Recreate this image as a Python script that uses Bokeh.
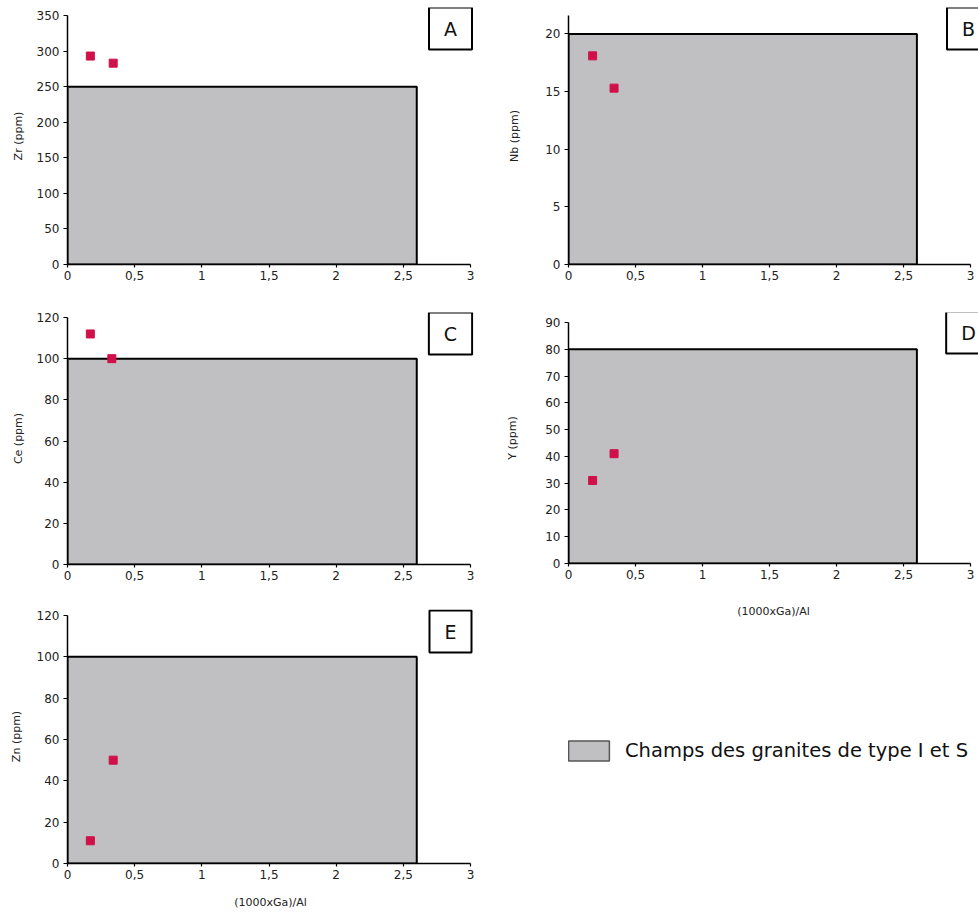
from bokeh.plotting import figure
from bokeh.models import Range1d, FixedTicker, Label, ColumnDataSource, Legend, LegendItem
from bokeh.layouts import row, column
from bokeh.embed import file_html
from bokeh.resources import INLINE

# ---- data ----
x_ticks = [0, 0.5, 1, 1.5, 2, 2.5, 3]
x_tick_labels = ["0", "0,5", "1", "1,5", "2", "2,5", "3"]
x_title = "(1000xGa)/Al"
x_max = 3
field_x_max = 2.6

panel_letters = ["A", "B", "C", "D", "E"]
y_titles = ["Zr (ppm)", "Nb (ppm)", "Ce (ppm)", "Y (ppm)", "Zn (ppm)"]
y_max = [350, 21.6, 120, 90, 120]
y_ticks = [[0, 50, 100, 150, 200, 250, 300, 350],
           [0, 5, 10, 15, 20],
           [0, 20, 40, 60, 80, 100, 120],
           [0, 10, 20, 30, 40, 50, 60, 70, 80, 90],
           [0, 20, 40, 60, 80, 100, 120]]
field_top = [250, 20, 100, 80, 100]

ga_al = [[0.17, 0.34], [0.18, 0.34], [0.17, 0.33], [0.18, 0.34], [0.17, 0.34]]
zr = [293, 283]
nb = [18.1, 15.3]
ce = [112, 100]
yy = [31, 41]
zn = [11, 50]
values = [zr, nb, ce, yy, zn]

legend_text = "Champs des granites de type I et S"

FONT = "DejaVu Sans"
FIELD_FILL = "#c0c0c2"
MARK = "#d0104a"

# layout geometry (pixels)
# width, height, border left/right/top/bottom, axis length in px (x, y),
# frame size in px (x, y), y-label standoff, x-title standoff, letter box centre
geom = {
    "A": dict(w=478, h=302, bl=67, br=5, bt=7, bb=38, ax=403, ay=249, fx=406, fy=257, ys=9, xs=None, box=(383, 236)),
    "C": dict(w=478, h=298, bl=67, br=5, bt=10, bb=36, ax=403, ay=247, fx=406, fy=252, ys=9, xs=None, box=(383, 231)),
    "E": dict(w=478, h=311, bl=67, br=5, bt=9, bb=48, ax=403, ay=248, fx=406, fy=254, ys=11, xs=14, box=(383, 232)),
    "B": dict(w=500, h=302, bl=90, br=0, bt=7, bb=38, ax=402, ay=249, fx=410, fy=257, ys=21, xs=None, box=(400, 236)),
    "D": dict(w=500, h=318, bl=90, br=0, bt=10, bb=56, ax=402, ay=242, fx=410, fy=252, ys=23, xs=23, box=(400, 231)),
}


def make_panel(i):
    letter = panel_letters[i]
    g = geom[letter]
    x_view_end = x_max * g["fx"] / g["ax"]
    y_view_end = y_max[i] * g["fy"] / g["ay"]
    p = figure(width=g["w"], height=g["h"], output_backend="svg", toolbar_location=None,
               x_range=Range1d(0, x_view_end), y_range=Range1d(0, y_view_end),
               min_border_left=g["bl"], min_border_right=g["br"],
               min_border_top=g["bt"], min_border_bottom=g["bb"])
    p.outline_line_color = None
    p.grid.visible = False
    p.background_fill_color = "white"

    p.quad(left=[0], right=[field_x_max], bottom=[0], top=[field_top[i]],
           fill_color=FIELD_FILL, line_color="black", line_width=2)
    p.scatter(x=ga_al[i], y=values[i], marker="square", size=8,
              fill_color=MARK, line_color=MARK)

    for ax in (p.xaxis[0], p.yaxis[0]):
        ax.axis_line_color = "black"
        ax.axis_line_width = 1.5
        ax.major_tick_line_color = "black"
        ax.major_tick_line_width = 1.2
        ax.major_tick_in = 0
        ax.minor_tick_line_color = None
        ax.major_label_text_font = FONT
        ax.major_label_text_font_size = "12px"
        ax.major_label_text_color = "#222222"
        ax.axis_label_text_font = FONT
        ax.axis_label_text_font_size = "11px"
        ax.axis_label_text_font_style = "normal"
        ax.axis_label_text_color = "#222222"

    xa = p.xaxis[0]
    xa.bounds = (0, x_max)
    xa.ticker = FixedTicker(ticks=x_ticks)
    xa.major_label_overrides = {t: s for t, s in zip(x_ticks, x_tick_labels)}
    xa.major_tick_out = 3
    xa.major_label_standoff = 3
    if g["xs"] is not None:
        xa.axis_label = x_title
        xa.axis_label_standoff = g["xs"]

    ya = p.yaxis[0]
    ya.bounds = (0, y_max[i])
    ya.ticker = FixedTicker(ticks=y_ticks[i])
    ya.major_tick_out = 4
    ya.major_label_standoff = 4
    ya.axis_label = y_titles[i]
    ya.axis_label_standoff = g["ys"]

    bx, by = g["box"]
    p.add_layout(Label(x=bx, y=by, x_units="screen", y_units="screen",
                       text=letter, text_font=FONT, text_font_size="19px",
                       text_align="center", text_baseline="middle",
                       text_color="#111111",
                       border_line_color="black", border_line_width=2,
                       background_fill_color="white", padding=(15, 10)))
    return p


panels = [make_panel(i) for i in range(5)]

# legend figure (its frame is aligned with panels B and D by the column layout)
leg = figure(width=500, height=291, output_backend="svg", toolbar_location=None,
             x_range=Range1d(0, 3), y_range=Range1d(0, 120),
             x_axis_type=None, y_axis_type=None,
             min_border_left=90, min_border_right=0, min_border_top=0, min_border_bottom=0)
leg.outline_line_color = None
leg.grid.visible = False
src = ColumnDataSource(data=dict(left=[0], right=[field_x_max], top=[field_top[4]], bottom=[0]))
r = leg.quad(left="left", right="right", top="top", bottom="bottom", source=src,
             fill_color=FIELD_FILL, line_color="#555555", line_width=1.5)
r.visible = False
legend = Legend(items=[LegendItem(label=legend_text, renderers=[r])],
                location=(-5, 148), padding=0, margin=0, spacing=0,
                glyph_width=51, glyph_height=25, label_standoff=11,
                label_text_font=FONT, label_text_font_size="19.5px",
                label_text_color="#111111",
                inactive_fill_alpha=0,
                background_fill_alpha=0, border_line_color=None)
leg.add_layout(legend, "center")

layout = row(column(panels[0], panels[2], panels[4]),
             column(panels[1], panels[3], leg))

open("out.html", "w").write(file_html(layout, INLINE))
